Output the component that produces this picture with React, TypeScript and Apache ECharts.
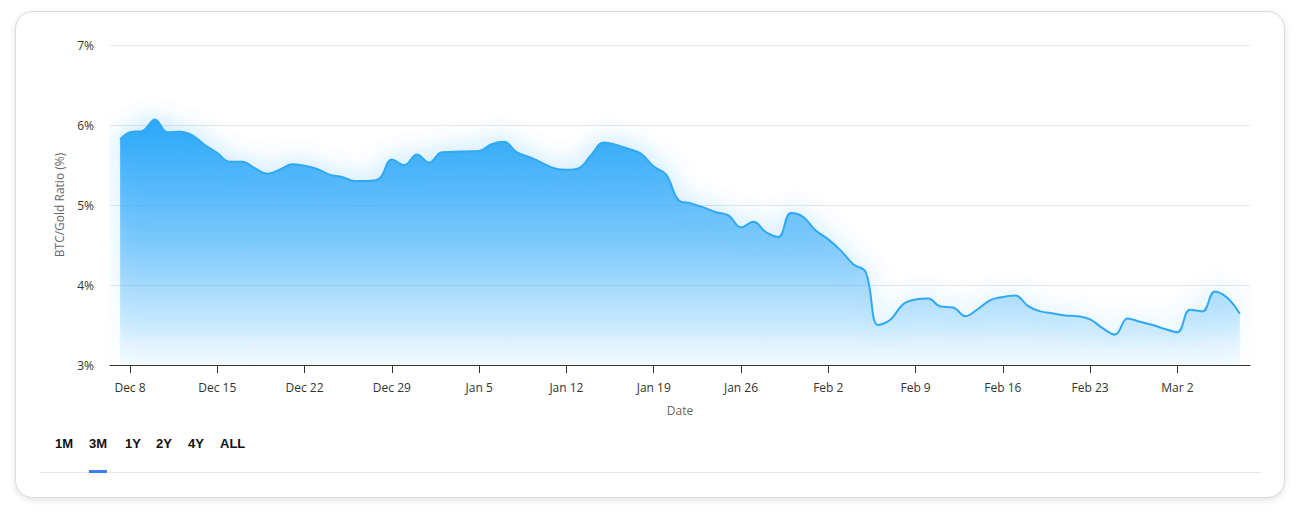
import React, { useEffect, useRef } from "react";
import * as echarts from "echarts";

// first sample is taken a few hours into Dec 7, then one sample per day (UTC midnight)
const firstSampleTime = "2025-12-07T05:00:00Z";
const dailyStart = "2025-12-08T00:00:00Z";

const firstValue = 5.82;
const dailyValues = [
  5.91, 5.925, 6.07, 5.91, 5.915, 5.87, 5.75, 5.65, 5.54, 5.54,
  5.46, 5.39, 5.44, 5.51, 5.49, 5.45, 5.38, 5.35, 5.3, 5.3,
  5.33, 5.57, 5.5, 5.63, 5.53, 5.66, 5.665, 5.67, 5.675, 5.76,
  5.79, 5.66, 5.6, 5.53, 5.46, 5.44, 5.46, 5.63, 5.78, 5.75,
  5.7, 5.64, 5.48, 5.38, 5.06, 5.02, 4.97, 4.91, 4.87, 4.72,
  4.79, 4.66, 4.6, 4.9, 4.85, 4.68, 4.57, 4.43, 4.26, 4.16,
  3.5, 3.57, 3.76, 3.82, 3.83, 3.73, 3.72, 3.61, 3.7, 3.81,
  3.85, 3.87, 3.74, 3.67, 3.645, 3.62, 3.61, 3.57, 3.46, 3.38,
  3.58, 3.54, 3.5, 3.45, 3.41, 3.69, 3.67, 3.92, 3.84, 3.64,
];

const tickDates = [
  "2025-12-08", "2025-12-15", "2025-12-22", "2025-12-29", "2026-01-05",
  "2026-01-12", "2026-01-19", "2026-01-26", "2026-02-02", "2026-02-09",
  "2026-02-16", "2026-02-23", "2026-03-02",
];

const axisMin = "2025-12-06T09:30:00Z";
const axisMax = "2026-03-07T19:40:00Z";

const yTicks = [3, 4, 5, 6, 7];
const rangeButtons = ["1M", "3M", "1Y", "2Y", "4Y", "ALL"];
const activeRange = "3M";

const MONTHS = ["Jan", "Feb", "Mar", "Apr", "May", "Jun", "Jul", "Aug", "Sep", "Oct", "Nov", "Dec"];
const DAY = 86400000;

function buildSeries(): [number, number][] {
  const out: [number, number][] = [[Date.parse(firstSampleTime), firstValue]];
  const s = Date.parse(dailyStart);
  dailyValues.forEach((v, i) => out.push([s + i * DAY, v]));
  return out;
}

const FONT = "'Open Sans', 'Noto Sans', sans-serif";

export default function App() {
  const ref = useRef<HTMLDivElement>(null);

  useEffect(() => {
    if (!ref.current) return;
    const chart = echarts.init(ref.current, null, { renderer: "svg" });
    const ticks = tickDates.map((d) => Date.parse(d + "T00:00:00Z"));
    chart.setOption({
      animation: false,
      textStyle: { fontFamily: FONT },
      grid: { left: 110, right: 46, top: 45, bottom: 151 },
      xAxis: {
        type: "value",
        min: Date.parse(axisMin),
        max: Date.parse(axisMax),
        name: "Date",
        nameLocation: "middle",
        nameGap: 39,
        nameTextStyle: { color: "#666", fontSize: 12, fontFamily: FONT },
        axisLine: { lineStyle: { color: "#333", width: 1 } },
        axisTick: { show: true, customValues: ticks, length: 8, lineStyle: { color: "#333" } },
        axisLabel: {
          customValues: ticks,
          color: "#333",
          fontSize: 12,
          margin: 16,
          fontFamily: FONT,
          formatter: (v: number) => {
            const d = new Date(v);
            return MONTHS[d.getUTCMonth()] + " " + d.getUTCDate();
          },
        },
        splitLine: { show: false },
      },
      yAxis: {
        type: "value",
        min: yTicks[0],
        max: yTicks[yTicks.length - 1],
        interval: 1,
        name: "BTC/Gold Ratio (%)",
        nameLocation: "middle",
        nameGap: 45,
        nameTextStyle: { color: "#666", fontSize: 12, fontFamily: FONT },
        axisLine: { show: false },
        axisTick: { show: false },
        axisLabel: { color: "#333", fontSize: 12, margin: 16, fontFamily: FONT, formatter: "{value}%" },
        splitLine: { lineStyle: { color: "#e6e6e6", width: 1 } },
      },
      series: [
        {
          type: "line",
          data: buildSeries(),
          smooth: 0.4,
          showSymbol: false,
          symbol: "none",
          lineStyle: {
            color: "#2fa9f6",
            width: 2,
            shadowColor: "rgba(30,150,235,0.45)",
            shadowBlur: 24,
          },
          areaStyle: {
            opacity: 1,
            shadowColor: "rgba(45,168,249,0.3)",
            shadowBlur: 24,
            color: new echarts.graphic.LinearGradient(0, 0, 0, 1, [
              { offset: 0, color: "rgba(45,168,249,1)" },
              { offset: 0.5, color: "rgba(45,168,249,0.55)" },
              { offset: 1, color: "rgba(45,168,249,0.03)" },
            ]),
          },
        },
      ],
    });
    return () => chart.dispose();
  }, []);

  return (
    <div style={{ position: "absolute", left: 0, top: 0, width: 1296, height: 516, background: "#fff", overflow: "hidden" }}>
      <div
        style={{
          position: "absolute",
          left: 15,
          top: 11,
          width: 1268,
          height: 485,
          border: "1px solid #dcdcdc",
          borderRadius: 18,
          boxShadow: "0 2px 6px rgba(0,0,0,0.12)",
          background: "#fff",
        }}
      />
      <div ref={ref} style={{ position: "absolute", left: 0, top: 0, width: 1296, height: 516 }} />
      <div
        style={{
          position: "absolute",
          left: 40,
          top: 472,
          width: 1221,
          height: 1,
          background: "#e6e6e6",
        }}
      />
      {rangeButtons.map((b, i) => {
        const lefts = [55, 89, 125, 156, 188, 220];
        const active = b === activeRange;
        return (
          <div
            key={b}
            style={{
              position: "absolute",
              left: lefts[i],
              top: 435,
              fontFamily: "'Liberation Sans', Arial, sans-serif",
              fontWeight: "bold",
              fontSize: 13,
              lineHeight: "18px",
              color: "#111",
            }}
          >
            {b}
            {active && (
              <div style={{ position: "absolute", left: 0, right: 0, top: 35, height: 3, background: "#3b7ff0" }} />
            )}
          </div>
        );
      })}
    </div>
  );
}
